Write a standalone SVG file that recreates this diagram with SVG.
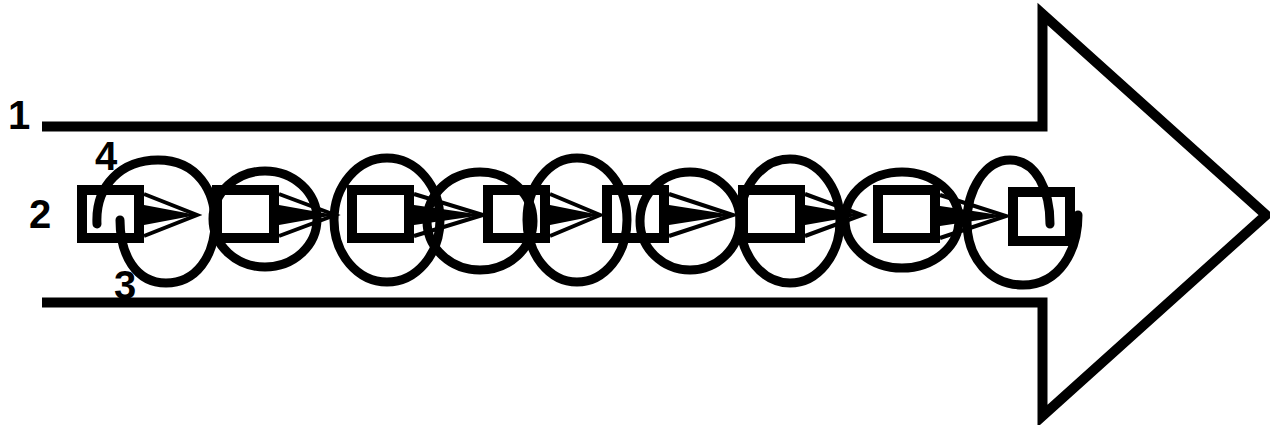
<svg xmlns="http://www.w3.org/2000/svg" width="1270" height="425" viewBox="0 0 1270 425">
<style>
.big{fill:none;stroke:#000;stroke-width:10;stroke-linejoin:miter;stroke-miterlimit:10}
.loop{fill:none;stroke:#000;stroke-width:9;stroke-linecap:round}
.box{fill:none;stroke:#000;stroke-width:10}
.head{fill:none;stroke:#000;stroke-width:4;stroke-linejoin:miter}
.wedge{fill:#000;stroke:none}
.lbl{font-family:"Liberation Sans",Arial,sans-serif;font-weight:bold;font-size:40px;fill:#000}
</style>
<rect width="1270" height="425" fill="#fff"/>
<g id="big-arrow">
<polyline class="big" points="42,126.5 1042.5,126.5 1042.5,14 1266,215 1042.5,416 1042.5,302.5 42,302.5"/>
</g>
<g id="coil">
<path class="loop" d="M97,224 C95,185 122,160 158,160 C198,160 215,192 215,222 C215,256 196,283 166,283 C136,283 120,255 120,220"/>
<ellipse class="loop" cx="265" cy="219" rx="52" ry="48"/>
<ellipse class="loop" cx="387" cy="220" rx="53" ry="62"/>
<ellipse class="loop" cx="480" cy="221" rx="53" ry="49"/>
<ellipse class="loop" cx="577" cy="220" rx="50" ry="62"/>
<ellipse class="loop" cx="690" cy="221" rx="50" ry="49"/>
<ellipse class="loop" cx="790" cy="221" rx="50" ry="62"/>
<ellipse class="loop" cx="902" cy="220" rx="57" ry="48"/>
<path class="loop" d="M1050,224 C1050,190 1036,160 1010,160 C985,160 967,190 967,222 C967,258 990,285 1023,285 C1060,285 1078,250 1078,215"/>
</g>
<g id="box1"><rect class="box" x="82" y="190" width="57" height="48"/></g>
<g id="box2"><rect class="box" x="217" y="190" width="57" height="48"/></g>
<g id="box3"><rect class="box" x="352" y="190" width="57" height="48"/></g>
<g id="box4"><rect class="box" x="488" y="190" width="57" height="48"/></g>
<g id="box5"><rect class="box" x="607" y="190" width="57" height="48"/></g>
<g id="box6"><rect class="box" x="743" y="190" width="57" height="48"/></g>
<g id="box7"><rect class="box" x="878" y="190" width="57" height="48"/></g>
<g id="box8"><rect class="box" x="1013" y="192" width="57" height="49"/></g>
<g id="connectors">
<polyline class="head" points="144,194 197,215 144,236"/><polygon class="wedge" points="144,205 197,215 144,225"/>
<polyline class="head" points="279,194 335,215 279,236"/><polygon class="wedge" points="279,205 335,215 279,225"/>
<polyline class="head" points="414,194 483,215 414,236"/><polygon class="wedge" points="414,205 483,215 414,225"/>
<polyline class="head" points="550,194 600,215 550,236"/><polygon class="wedge" points="550,205 600,215 550,225"/>
<polyline class="head" points="669,194 733,215 669,236"/><polygon class="wedge" points="669,205 733,215 669,225"/>
<polyline class="head" points="805,194 862,215 805,236"/><polygon class="wedge" points="805,205 862,215 805,225"/>
<polyline class="head" points="940,195 1006,216 940,238"/><polygon class="wedge" points="940,206 1006,216 940,226"/>
</g>
<g id="label1"><text class="lbl" x="8" y="129">1</text></g>
<g id="label2"><text class="lbl" x="29" y="228">2</text></g>
<g id="label4"><text class="lbl" x="95" y="170">4</text></g>
<g id="label3"><text class="lbl" x="114" y="299">3</text></g>
</svg>
